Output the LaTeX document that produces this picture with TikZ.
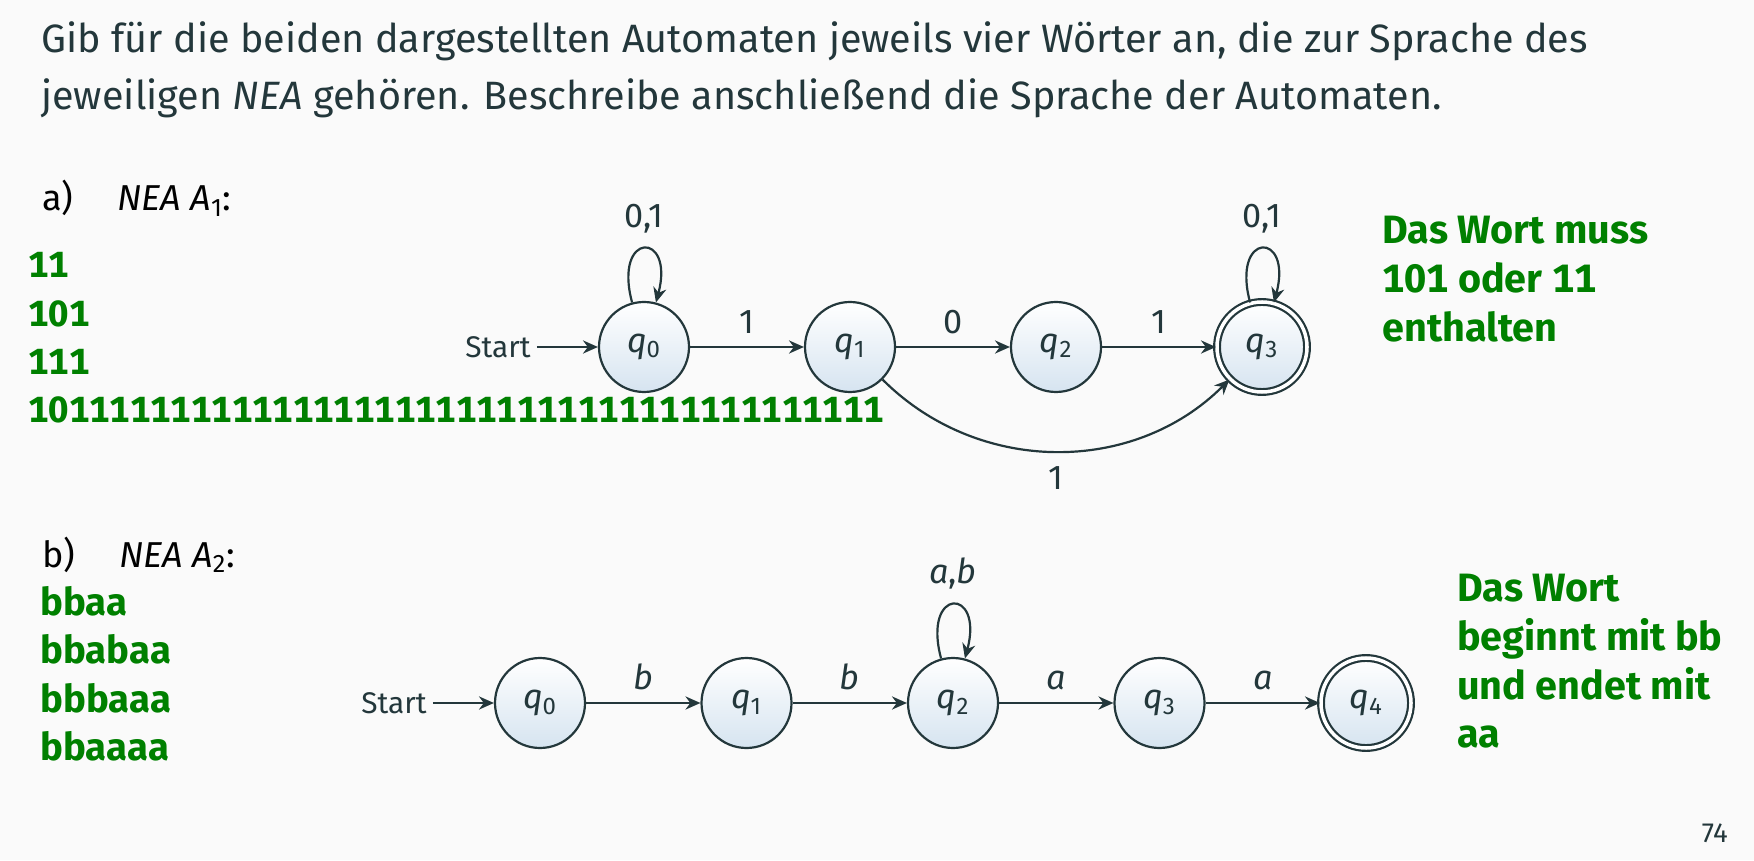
\documentclass[tikz,border=0pt]{standalone}
\usepackage{fontspec}
\setmainfont{Fira Sans}
\usetikzlibrary{positioning,arrows.meta}
\definecolor{bg}{HTML}{FAFAFA}
\definecolor{dunkel}{HTML}{23373B}
\definecolor{loesung}{HTML}{008000}
\definecolor{zblau}{HTML}{D6E4F0}
\newcommand{\wort}[4]{\node[wort] (#1) at ( #2 , #3 ) {#4};}
\newcommand{\zahl}[4]{\node[wort, zahlen] (#1) at ( #2 , #3 ) {#4};}
\newcommand{\antw}[4]{\node[antw] (#1) at ( #2 , #3 ) {#4};}
\newcommand{\zst}[1]{\textit{q}\textsubscript{#1}}

\tikzset{
  zustand/.style={circle, draw=dunkel, line width=1.25pt, minimum size=1.8cm, inner sep=0pt,
    top color=white, bottom color=zblau, text=dunkel, font=\fontsize{19.5}{22}\selectfont},
  endzustand/.style={zustand, double=white, double distance=2pt},
  trans/.style={-{Stealth[length=8.5pt,width=7.5pt]}, line width=1.25pt, draw=dunkel, text=dunkel,
    font=\fontsize{19.5}{22}\selectfont},
  starttext/.style={text=dunkel, font=\fontsize{17}{20}\selectfont},
  kopf/.style={anchor=base west, inner sep=0pt, text=dunkel, font=\fontsize{22.5}{32}\selectfont},
  teil/.style={anchor=base west, inner sep=0pt, text=black, font=\fontsize{20.5}{24}\selectfont},
  wort/.style={anchor=base west, inner sep=0pt, text=loesung,
    font=\fontsize{21.8}{27}\selectfont\bfseries\addfontfeatures{Numbers=Monospaced}},
  zahlen/.style={font=\fontsize{20.7}{27}\selectfont\bfseries\addfontfeatures{Numbers=Monospaced}},
  antw/.style={anchor=base west, inner sep=0pt, text=loesung,
    font=\fontsize{22.5}{27}\selectfont\bfseries\addfontfeatures{Numbers=Monospaced}},
}

\begin{document}
\begin{tikzpicture}
    \fill[bg] (0,0) rectangle (35.08,17.2);
    \useasboundingbox (0,0) rectangle (35.08,17.2);

    % aufgabe
    \node[kopf] (kopf1) at (0.82,16.14) {Gib für die beiden dargestellten Automaten jeweils vier Wörter an, die zur Sprache des};
    \node[kopf] (kopf2) at (0.82,15.0) {jeweiligen \textit{NEA} gehören. Beschreibe anschließend die Sprache der Automaten.};

    % teil a
    \node[teil] (teila) at (0.84,12.98) {a)\hspace{25pt}\textit{NEA A}\textsubscript{1}:};
    \zahl{wa1}{0.56}{11.64}{11}
    \zahl{wa2}{0.56}{10.66}{101}
    \zahl{wa3}{0.56}{9.70}{111}
    \zahl{wa4}{0.56}{8.74}{101111111111111111111111111111111111111111}

    \node[zustand] (q0) at (12.88,10.26) {\zst{0}};
    \node[zustand, on grid, right=4.12cm of q0] (q1) {\zst{1}};
    \node[zustand, on grid, right=4.12cm of q1] (q2) {\zst{2}};
    \node[endzustand, on grid, right=4.12cm of q2] (q3) {\zst{3}};
    \node[starttext, left=1.22cm of q0] (starta) {Start};

    \draw[trans] (starta) -- (q0);
    \draw[trans] (q0) to[loop above] node[yshift=4.5pt] {0,1} (q0);
    \draw[trans] (q0) -- node[above, yshift=3.5pt] {1} (q1);
    \draw[trans] (q1) -- node[above, yshift=3.5pt] {0} (q2);
    \draw[trans] (q2) -- node[above, yshift=3.5pt] {1} (q3);
    \draw[trans] (q1) to[bend right=45] node[below, yshift=-5pt] {1} (q3);
    \draw[trans] (q3) to[loop above] node[yshift=4.5pt] {0,1} (q3);

    \antw{la1}{27.64}{12.32}{Das Wort muss}
    \antw{la2}{27.64}{11.34}{101 oder 11}
    \antw{la3}{27.64}{10.36}{enthalten}

    % teil b
    \node[teil] (teilb) at (0.84,5.86) {b)\hspace{25pt}\textit{NEA A}\textsubscript{2}:};
    \wort{wb1}{0.8}{4.90}{bbaa}
    \wort{wb2}{0.8}{3.94}{bbabaa}
    \wort{wb3}{0.8}{2.96}{bbbaaa}
    \wort{wb4}{0.8}{2.0}{bbaaaa}

    \node[zustand] (p0) at (10.8,3.14) {\zst{0}};
    \node[zustand, on grid, right=4.13cm of p0] (p1) {\zst{1}};
    \node[zustand, on grid, right=4.13cm of p1] (p2) {\zst{2}};
    \node[zustand, on grid, right=4.13cm of p2] (p3) {\zst{3}};
    \node[endzustand, on grid, right=4.13cm of p3] (p4) {\zst{4}};
    \node[starttext, left=1.22cm of p0] (startb) {Start};

    \draw[trans] (startb) -- (p0);
    \draw[trans] (p0) -- node[above, yshift=3.5pt] {\textit{b}} (p1);
    \draw[trans] (p1) -- node[above, yshift=3.5pt] {\textit{b}} (p2);
    \draw[trans] (p2) to[loop above] node[yshift=4.5pt] {\textit{a},\textit{b}} (p2);
    \draw[trans] (p2) -- node[above, yshift=3.5pt] {\textit{a}} (p3);
    \draw[trans] (p3) -- node[above, yshift=3.5pt] {\textit{a}} (p4);

    \antw{lb1}{29.14}{5.16}{Das Wort}
    \antw{lb2}{29.14}{4.19}{beginnt mit bb}
    \antw{lb3}{29.14}{3.22}{und endet mit}
    \antw{lb4}{29.14}{2.25}{aa}

    \node[anchor=base east, inner sep=0pt, text=dunkel, font=\fontsize{15.7}{18}\selectfont] (seite) at (34.56,0.36) {74};
\end{tikzpicture}
\end{document}
